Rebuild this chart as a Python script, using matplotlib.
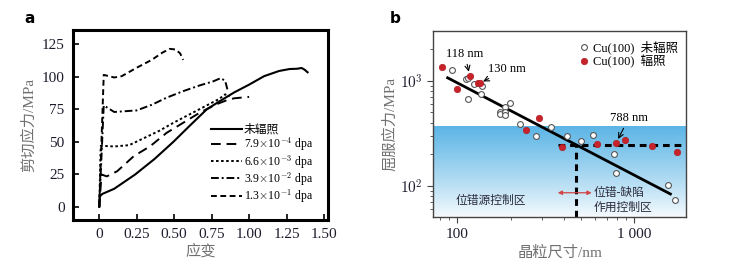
import numpy as np
import matplotlib
matplotlib.use("Agg")
import matplotlib.pyplot as plt

plt.rcParams["mathtext.fontset"] = "cm"
SERIF_CJK = ["Liberation Serif", "Noto Sans CJK SC"]

# ---------------------------------------------------------------------------
# Panel a data: shear stress-strain curves
# ---------------------------------------------------------------------------
strain_unirr = [0, 0.003, 0.02, 0.1, 0.24, 0.37, 0.494, 0.6, 0.717, 0.8, 0.9,
                1.0, 1.1, 1.2, 1.27, 1.32, 1.35, 1.37, 1.39]
stress_unirr = [0, 8, 10, 14, 25, 37, 50, 62, 75, 81, 88,
                94, 100.5, 104.5, 106, 106.2, 106.8, 105.5, 103.5]

strain_79e4 = [0, 0.015, 0.05, 0.12, 0.23, 0.34, 0.45, 0.56, 0.67, 0.78,
               0.85, 0.9, 1.0]
stress_79e4 = [0, 25, 23.5, 27.5, 39, 46.7, 57, 64.7, 72.4, 78.8,
               82, 83.5, 84.6]

strain_66e3 = [0, 0.01, 0.1, 0.2, 0.3, 0.4, 0.5, 0.6, 0.7, 0.8, 0.84, 0.87]
stress_66e3 = [0, 47, 46.5, 47.5, 53, 58.5, 65, 71, 77, 83, 86.5, 85]

strain_39e2 = [0, 0.03, 0.1, 0.25, 0.35, 0.45, 0.56, 0.67, 0.76, 0.81,
               0.84, 0.855]
stress_39e2 = [0, 78, 73, 74.2, 78.5, 84, 89, 93.4, 96.5, 99, 97, 90.4]

strain_13e1 = [0, 0.03, 0.1, 0.15, 0.25, 0.35, 0.42, 0.47, 0.51, 0.54, 0.56]
stress_13e1 = [0, 101.5, 99.5, 100.5, 107, 113, 118.5, 121.5, 121, 118, 113]

curve_labels = ["未辐照",
                r"7.9$\times$10$^{-4}$ dpa",
                r"6.6$\times$10$^{-3}$ dpa",
                r"3.9$\times$10$^{-2}$ dpa",
                r"1.3$\times$10$^{-1}$ dpa"]
a_xticks = [0, 0.25, 0.5, 0.75, 1.0, 1.25, 1.5]
a_xticklabels = ["0", "0.25", "0.50", "0.75", "1.00", "1.25", "1.50"]
a_yticks = [0, 25, 50, 75, 100, 125]

# ---------------------------------------------------------------------------
# Panel b data: yield stress vs grain size
# ---------------------------------------------------------------------------
d_unirr = [93, 112, 115, 124, 138, 135.5, 115, 199, 184.5, 173, 173, 184.5,
           186.5, 227, 277, 340, 414, 499, 581, 770, 790, 1542, 1690]
s_unirr = [1264, 1030, 1060, 929, 891, 748, 670, 610, 559, 508, 480, 508,
           469, 387, 299, 363, 299, 268, 305, 200, 134, 102, 73.6]

d_irr = [81.5, 100, 117.4, 131, 134, 290, 245, 391, 612, 790, 886, 1253, 1750]
s_irr = [1341, 829, 1115, 944, 944, 446, 340, 236, 249, 258, 274, 240, 210]

fit_d = [88, 1600]
fit_s = [1067, 84]

crit_d = 466     # critical grain size
crit_s = 245     # saturated yield stress
band_top = 366

b_xticks = [100, 1000]
b_xticklabels = ["100", "1 000"]
b_yticks = [100, 1000]
b_yticklabels = [r"$10^2$", r"$10^3$"]

# ---------------------------------------------------------------------------
fig = plt.figure(figsize=(7.45, 2.75), dpi=100)
fig.patch.set_facecolor("white")

LABEL_C = "#707070"
TICK_C = "#1c1c2c"

# ---- Panel a ---------------------------------------------------------------
ax = fig.add_axes([0.098, 0.2, 0.342, 0.691])
styles = [
    dict(linestyle="-", lw=1.5),
    dict(linestyle=(0, (5, 3)), lw=1.4),
    dict(linestyle=(0, (1.3, 1.3)), lw=1.4),
    dict(linestyle=(0, (4, 1.5, 1, 1.5)), lw=1.4),
    dict(linestyle=(0, (3, 1.8)), lw=1.4),
]
curves = [(strain_unirr, stress_unirr), (strain_79e4, stress_79e4),
          (strain_66e3, stress_66e3), (strain_39e2, stress_39e2),
          (strain_13e1, stress_13e1)]
for (xs, ys), st, lab in zip(curves, styles, curve_labels):
    ax.plot(xs, ys, color="black", label=lab, **st)

ax.set_xlim(-0.175, 1.525)
ax.set_ylim(-10, 136)
ax.set_xticks(a_xticks)
ax.set_xticklabels(a_xticklabels)
ax.set_yticks(a_yticks)
ax.tick_params(direction="in", length=4, width=1.2, labelsize=11,
               labelcolor=TICK_C, pad=6)
for lbl in ax.get_xticklabels() + ax.get_yticklabels():
    lbl.set_family("Liberation Serif")
for sp in ax.spines.values():
    sp.set_linewidth(2.2)
ax.set_xlabel("应变", family=SERIF_CJK, fontsize=11, color=LABEL_C, labelpad=2)
ax.set_ylabel("剪切应力/MPa", family=SERIF_CJK, fontsize=11, color=LABEL_C,
              labelpad=4)
leg = ax.legend(loc="lower right", bbox_to_anchor=(0.97, 0.04), frameon=False,
                handlelength=2.6, handletextpad=0.15, labelspacing=-0.05,
                borderaxespad=0.2,
                prop={"family": SERIF_CJK, "size": 8.5})

# ---- Panel b ---------------------------------------------------------------
bx = fig.add_axes([0.5816, 0.21, 0.3392, 0.678])
bx.set_xscale("log")
bx.set_yscale("log")
bx.set_xlim(73, 1960)
bx.set_ylim(50.5, 2985)

top_frac = (np.log10(band_top) - np.log10(50.5)) / (np.log10(2985) - np.log10(50.5))
grad = np.linspace(0, 1, 256).reshape(-1, 1)
c_top = np.array([0.36, 0.71, 0.90])
c_bot = np.array([0.97, 0.985, 0.995])
img = c_bot + (c_top - c_bot) * grad[..., None] ** 0.9
bx.imshow(img[::-1], extent=(0, 1, 0, top_frac), transform=bx.transAxes,
          aspect="auto", zorder=0, interpolation="bilinear")

bx.plot(fit_d, fit_s, color="black", lw=2.0, zorder=2)
bx.plot([crit_d, crit_d], [50.5, crit_s], color="black", lw=2.2,
        linestyle=(0, (2.2, 1.6)), zorder=2)
bx.plot([369, 1960], [crit_s, crit_s], color="black", lw=2.2,
        linestyle=(0, (2.2, 1.6)), zorder=2)

bx.plot(d_unirr, s_unirr, "o", ms=4.2, mfc="white", mec="#555555", mew=0.8,
        linestyle="none", zorder=3, label="Cu(100)  未辐照")
bx.plot(d_irr, s_irr, "o", ms=4.6, mfc="#c8232b", mec="#b01e25", mew=0.5,
        linestyle="none", zorder=3, label="Cu(100)  辐照")

bx.legend(loc="upper right", bbox_to_anchor=(1.005, 1.0), frameon=False,
          handlelength=0.7, handletextpad=0.35, labelspacing=0.05,
          borderaxespad=0.35,
          prop={"family": SERIF_CJK, "size": 9})

arrow = dict(arrowstyle="->", color="black", lw=0.8, shrinkA=1, shrinkB=3)
bx.annotate("118 nm", xy=(117.4, 1115), xytext=(110, 1790), ha="center",
            va="center", fontsize=9, family="Liberation Serif",
            arrowprops=arrow)
bx.annotate("130 nm", xy=(133, 944), xytext=(190, 1290), ha="center",
            va="center", fontsize=9, family="Liberation Serif",
            arrowprops=arrow)
bx.annotate("788 nm", xy=(790, 258), xytext=(930, 440), ha="center",
            va="center", fontsize=9, family="Liberation Serif",
            arrowprops=arrow)

bx.annotate("", xy=(369, 86.3), xytext=(574, 86.3),
            arrowprops=dict(arrowstyle="<|-|>", color="#d24545", lw=0.9,
                            mutation_scale=6, shrinkA=0, shrinkB=0))
bx.text(98, 72, "位错源控制区", fontsize=8.5, family=SERIF_CJK,
        color="#2a2a3a", va="center", ha="left")
bx.text(585, 86.3, "位错-缺陷", fontsize=8.5, family=SERIF_CJK,
        color="#2a2a3a", va="center", ha="left")
bx.text(585, 61.8, "作用控制区", fontsize=8.5, family=SERIF_CJK,
        color="#2a2a3a", va="center", ha="left")

bx.set_xticks(b_xticks)
bx.set_xticklabels(b_xticklabels)
bx.set_yticks(b_yticks)
bx.set_yticklabels(b_yticklabels)
bx.tick_params(which="major", direction="out", length=4, width=0.8,
               labelsize=11, labelcolor=TICK_C, color="#444444")
bx.tick_params(which="minor", direction="out", length=2, width=0.6,
               color="#444444", labelleft=False, labelbottom=False)
for lbl in bx.get_xticklabels():
    lbl.set_family("Liberation Serif")
for sp in bx.spines.values():
    sp.set_linewidth(1.0)
    sp.set_color("#444444")
bx.set_xlabel("晶粒尺寸/nm", family=SERIF_CJK, fontsize=11, color=LABEL_C,
              labelpad=3)
bx.set_ylabel("屈服应力/MPa", family=SERIF_CJK, fontsize=11, color=LABEL_C,
              labelpad=2)

# ---- Panel labels ------------------------------------------------------------
fig.text(0.033, 0.915, "a", fontsize=11, fontweight="bold", family="DejaVu Sans")
fig.text(0.523, 0.915, "b", fontsize=11, fontweight="bold", family="DejaVu Sans")

fig.savefig("out.png", dpi=100)
